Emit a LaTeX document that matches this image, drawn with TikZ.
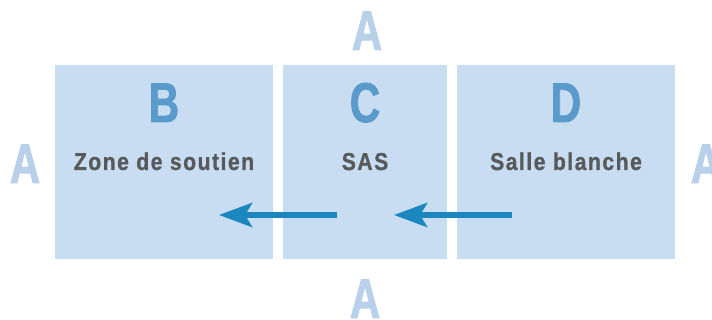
\documentclass[tikz,border=0pt]{standalone}
\usepackage{fontspec}
\usetikzlibrary{arrows.meta}
\newfontfamily\bigfont[FakeStretch=0.75,FakeBold=1.5]{Liberation Sans Bold}
\newfontfamily\labfont[FakeStretch=0.87,LetterSpace=6,FakeBold=0.8]{Liberation Sans Bold}
\definecolor{boxfill}{HTML}{C8DDF1}
\definecolor{letterblue}{HTML}{5A9BCB}
\definecolor{alight}{HTML}{B8D0E9}
\definecolor{textgrey}{HTML}{58595B}
\definecolor{arrowblue}{HTML}{1C87BF}
\tikzset{
  room/.style={draw=none, fill=boxfill, rectangle, inner sep=0pt, anchor=north west},
  bigletter/.style={font=\bigfont\fontsize{56}{56}\selectfont, text=letterblue, anchor=base, inner sep=0pt},
  aletter/.style={font=\bigfont\fontsize{56}{56}\selectfont, text=alight, anchor=base, inner sep=0pt},
  roomlabel/.style={font=\labfont\fontsize{24.4}{24.4}\selectfont, text=textgrey, anchor=base, inner sep=0pt},
  flow/.style={draw=arrowblue, line width=6pt, -{Stealth[length=33pt,width=24pt,inset=7pt]}}
}
\begin{document}
\begin{tikzpicture}[x=1pt,y=-1pt]
\clip (0,0) rectangle (712,320);
\useasboundingbox (0,0) rectangle (712,320);
\fill[white] (0,0) rectangle (712,320);
% rooms
\node[room, minimum width=218pt, minimum height=194pt] (b) at (55,65) {};
\node[room, minimum width=164pt, minimum height=194pt] (c) at (283,65) {};
\node[room, minimum width=218pt, minimum height=194pt] (d) at (457,65) {};
% letters
\node[bigletter] (lb) at (164,122) {B};
\node[bigletter] (lc) at (365,122) {C};
\node[bigletter] (ld) at (566,122) {D};
% labels
\node[roomlabel] (tb) at (164,170) {Zone de soutien};
\node[roomlabel] (tc) at (365,170) {SAS};
\node[roomlabel] (td) at (566,170) {Salle blanche};
% A labels
\node[aletter] (atop) at (367,50) {A};
\node[aletter] (abot) at (365,318) {A};
\node[aletter] (aleft) at (25,183) {A};
\node[aletter] (aright) at (706,183) {A};
% arrows
\coordinate (c1) at (337,215);
\coordinate (b1) at (219,215);
\coordinate (d1) at (512,215);
\coordinate (c2) at (394,215);
\draw[flow] (c1) -- (b1);
\draw[flow] (d1) -- (c2);
\end{tikzpicture}
\end{document}
